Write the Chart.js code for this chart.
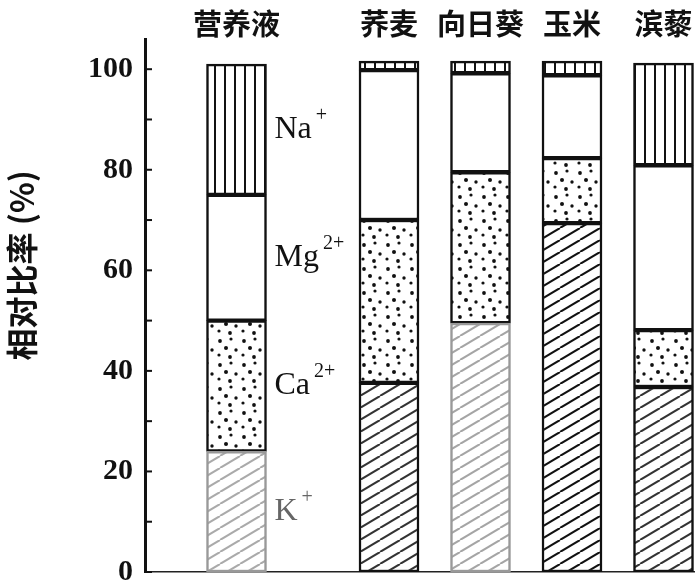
<!DOCTYPE html>
<html>
<head>
<meta charset="utf-8">
<script src="https://cdn.jsdelivr.net/npm/chart.js@4"></script>
<style>
html, body { margin: 0; padding: 0; background: #fff; }
</style>
</head>
<body>
<canvas id="ionChart" width="698" height="584"></canvas>
<script>
const categories = ['营养液', '荞麦', '向日葵', '玉米', '滨藜'];
const kValues = [24, 37.6, 49.5, 69.4, 36.8];
const caValues = [26, 32.4, 30, 12.9, 11.3];
const mgValues = [25, 29.8, 19.7, 16.5, 32.8];
const naValues = [26, 1.8, 2.4, 2.8, 20.3];
const yTickLabels = [0, 20, 40, 60, 80, 100];
const ionNames = ['K', 'Ca', 'Mg', 'Na'];
const ionCharges = ['+', '2+', '2+', '+'];
const yTitle = '相对比率 (%)';

// bars sit on a 19 slot category axis so the first one stands apart
const slotOf = [3, 8, 11, 14, 17];
const slotCount = 19;

const labels = new Array(slotCount).fill('');
categories.forEach((c, i) => { labels[slotOf[i]] = c; });

function spread(values) {
    const out = new Array(slotCount).fill(null);
    values.forEach((v, i) => { out[slotOf[i]] = v; });
    return out;
}

const canvas = document.getElementById('ionChart');
const ctx = canvas.getContext('2d');

function tile(w, h, paint) {
    const c = document.createElement('canvas');
    c.width = w;
    c.height = h;
    const g = c.getContext('2d');
    g.fillStyle = '#fff';
    g.fillRect(0, 0, w, h);
    paint(g, w, h);
    return ctx.createPattern(c, 'repeat');
}

function hatch(color) {
    return tile(20, 12, (g, w, h) => {
        g.strokeStyle = color;
        g.lineWidth = 2;
        [-w, 0, w].forEach(dx => {
            g.beginPath();
            g.moveTo(dx, h);
            g.lineTo(dx + w, 0);
            g.stroke();
        });
    });
}

const dots = tile(24, 24, g => {
    g.fillStyle = '#111';
    [[4, 5, 1.9], [15, 3, 1.6], [10, 12, 2], [20, 14, 1.7], [3, 19, 1.6], [14, 21, 1.9]].forEach(d => {
        g.beginPath();
        g.arc(d[0], d[1], d[2], 0, Math.PI * 2);
        g.fill();
    });
});

const stripes = tile(10, 10, g => {
    g.fillStyle = '#111';
    g.fillRect(4, 0, 2, 10);
});

// print is lighter on some of the K+ columns
const kFill = [hatch('#aaa'), hatch('#333'), hatch('#a5a5a5'), hatch('#111'), hatch('#333')];
const kEdge = ['#999', '#111', '#999', '#111', '#111'];

const inwardTicks = {
    id: 'inwardTicks',
    afterDraw(chart) {
        const y = chart.scales.y;
        const c = chart.ctx;
        c.save();
        c.strokeStyle = '#111';
        c.lineWidth = 2;
        y.ticks.forEach(t => {
            const py = y.getPixelForValue(t.value);
            c.beginPath();
            c.moveTo(y.right, py);
            c.lineTo(y.right + 7, py);
            c.stroke();
        });
        c.restore();
    }
};

const sideTitle = {
    id: 'sideTitle',
    afterDraw(chart) {
        const y = chart.scales.y;
        const c = chart.ctx;
        c.save();
        c.translate(22, y.getPixelForValue(61));
        c.rotate(-Math.PI / 2);
        c.font = 'bold 32px "Noto Sans CJK SC"';
        c.fillStyle = '#111';
        c.textAlign = 'center';
        c.textBaseline = 'middle';
        c.fillText(yTitle, 0, 0);
        c.restore();
    }
};

const ionLabels = {
    id: 'ionLabels',
    afterDatasetsDraw(chart) {
        const c = chart.ctx;
        c.save();
        c.textAlign = 'left';
        c.textBaseline = 'middle';
        chart.data.datasets.forEach((ds, di) => {
            const bar = chart.getDatasetMeta(di).data[slotOf[0]];
            const p = bar.getProps(['x', 'y', 'base', 'width'], true);
            const x = p.x + p.width / 2 + 8;
            const ym = (p.y + p.base) / 2;
            c.fillStyle = di === 0 ? '#666' : '#111';
            c.font = '32px "Liberation Serif"';
            c.fillText(ionNames[di], x, ym);
            const w = c.measureText(ionNames[di]).width;
            c.font = '20px "Liberation Serif"';
            c.fillText(ionCharges[di], x + w + 4, ym - 14);
        });
        c.restore();
    }
};

new Chart(ctx, {
    type: 'bar',
    data: {
        labels: labels,
        datasets: [
            { label: 'K+', data: spread(kValues), backgroundColor: spread(kFill), borderColor: spread(kEdge) },
            { label: 'Ca2+', data: spread(caValues), backgroundColor: dots, borderColor: '#111' },
            { label: 'Mg2+', data: spread(mgValues), backgroundColor: '#fff', borderColor: '#111' },
            { label: 'Na+', data: spread(naValues), backgroundColor: stripes, borderColor: '#111' }
        ]
    },
    options: {
        responsive: false,
        animation: false,
        devicePixelRatio: 1,
        layout: { padding: { top: 8, right: 4, bottom: 0, left: 0 } },
        datasets: {
            bar: { barThickness: 60, borderWidth: 2.5, borderSkipped: false }
        },
        plugins: {
            legend: { display: false },
            tooltip: { enabled: false }
        },
        scales: {
            x: {
                type: 'category',
                position: 'top',
                offset: false,
                stacked: true,
                grid: { display: false, drawTicks: false },
                border: { display: false },
                ticks: {
                    autoSkip: false,
                    maxRotation: 0,
                    padding: 0,
                    color: '#111',
                    font: { family: '"Noto Sans CJK SC"', size: 29, weight: 'bold', lineHeight: 1.07 }
                }
            },
            xb: {
                type: 'category',
                position: 'bottom',
                offset: false,
                grid: { display: false, drawTicks: false },
                border: { display: true, color: '#222', width: 1.5 },
                ticks: { display: false }
            },
            y: {
                stacked: true,
                min: 0,
                max: 106,
                afterBuildTicks: s => {
                    const ticks = [];
                    for (let v = 0; v <= 100; v += 10) ticks.push({ value: v });
                    s.ticks = ticks;
                },
                afterFit: s => { s.width = 145; },
                grid: { display: false, drawTicks: false },
                border: { color: '#111', width: 3 },
                ticks: {
                    padding: 12,
                    color: '#111',
                    callback: v => yTickLabels.includes(v) ? v : '',
                    font: { family: '"Liberation Serif"', size: 30, weight: 'bold', lineHeight: 0 }
                }
            }
        }
    },
    plugins: [inwardTicks, sideTitle, ionLabels]
});
</script>
</body>
</html>
